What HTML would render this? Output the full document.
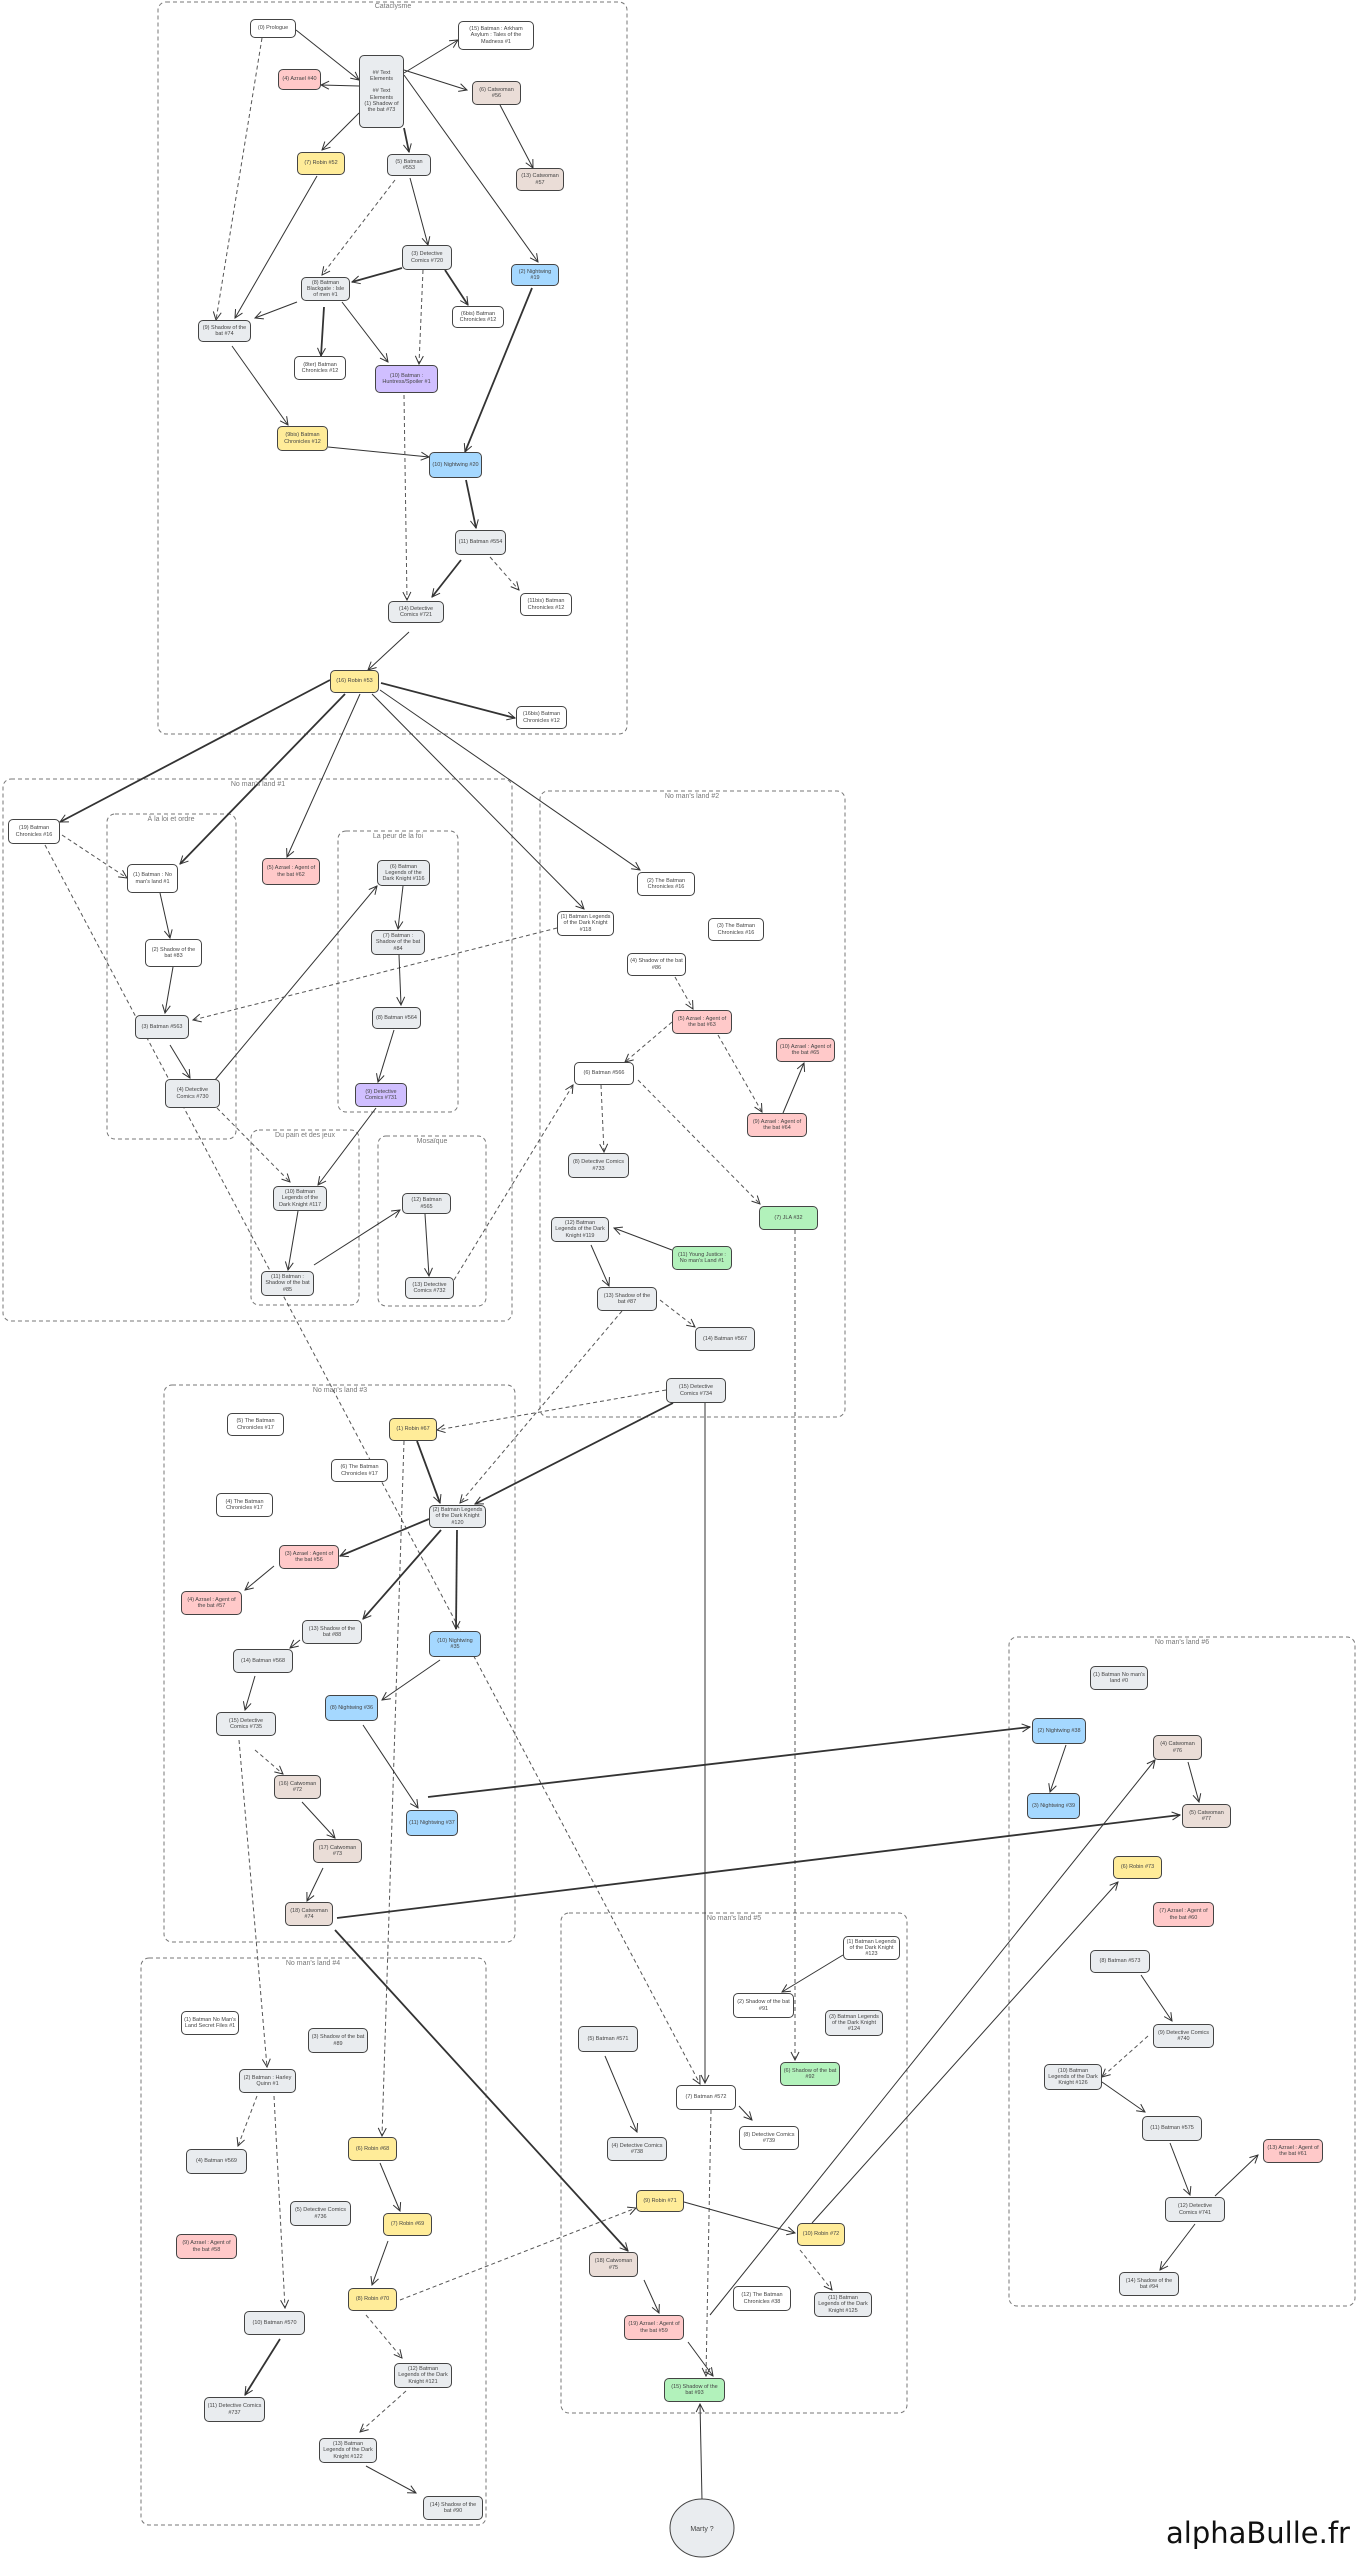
<!DOCTYPE html>
<html><head><meta charset="utf-8"><style>
body{margin:0;width:1358px;height:2560px;background:#fff;position:relative;overflow:hidden;font-family:"Liberation Sans",sans-serif}
svg{position:absolute;left:0;top:0}
.n{position:absolute;border:1px solid #444;border-radius:5px;display:flex;align-items:center;justify-content:center;text-align:center;font-size:5.5px;line-height:1.12;color:#444;box-sizing:border-box;padding:1px 2px;background:#fff;overflow:hidden}
.g{background:#e9ecef}.r{background:#ffc9c9}.y{background:#ffec99}.b{background:#a5d8ff}.p{background:#d0bfff}.br{background:#eaddd7}.gr{background:#b2f2bb}
.lbl{position:absolute;font-size:7px;color:#777;transform:translateX(-50%)}
line{stroke:#333;stroke-width:1;fill:none}
line.d{stroke-dasharray:4 3;stroke:#555}
line.t{stroke-width:1.8}
rect.c{fill:none;stroke:#777;stroke-dasharray:4 3;stroke-width:1}
</style></head><body>
<svg width="1358" height="2560">
<defs><marker id="a" markerWidth="10" markerHeight="10" refX="9" refY="5" orient="auto" markerUnits="userSpaceOnUse"><path d="M1,1 L9,5 L1,9" fill="none" stroke="#333" stroke-width="1"/></marker></defs>
<rect class="c" x="158" y="2" width="469" height="732" rx="8"/>
<rect class="c" x="3" y="779" width="509" height="542" rx="8"/>
<rect class="c" x="107" y="814" width="129" height="325" rx="8"/>
<rect class="c" x="338" y="831" width="120" height="281" rx="8"/>
<rect class="c" x="251" y="1130" width="108" height="175" rx="8"/>
<rect class="c" x="378" y="1136" width="108" height="170" rx="8"/>
<rect class="c" x="540" y="791" width="305" height="626" rx="8"/>
<rect class="c" x="164" y="1385" width="351" height="557" rx="8"/>
<rect class="c" x="1009" y="1637" width="346" height="669" rx="8"/>
<rect class="c" x="141" y="1958" width="345" height="567" rx="8"/>
<rect class="c" x="561" y="1913" width="346" height="500" rx="8"/>
<g marker-end="url(#a)">
<line x1="296" y1="30" x2="359" y2="80"/>
<line class="d" x1="262" y1="38" x2="216" y2="320"/>
<line x1="359" y1="86" x2="321" y2="85"/>
<line x1="404" y1="73" x2="458" y2="40"/>
<line x1="404" y1="70" x2="467" y2="90"/>
<line x1="404" y1="75" x2="538" y2="262"/>
<line x1="359" y1="113" x2="322" y2="150"/>
<line class="t" x1="404" y1="128" x2="409" y2="152"/>
<line x1="500" y1="105" x2="533" y2="168"/>
<line x1="317" y1="176" x2="235" y2="318"/>
<line class="d" x1="395" y1="180" x2="322" y2="275"/>
<line x1="410" y1="178" x2="428" y2="245"/>
<line class="t" x1="402" y1="268" x2="352" y2="282"/>
<line class="t" x1="445" y1="270" x2="468" y2="305"/>
<line class="d" x1="423" y1="270" x2="419" y2="364"/>
<line x1="297" y1="302" x2="255" y2="318"/>
<line class="t" x1="324" y1="307" x2="321" y2="356"/>
<line x1="342" y1="302" x2="388" y2="362"/>
<line class="t" x1="532" y1="288" x2="465" y2="452"/>
<line x1="232" y1="346" x2="288" y2="425"/>
<line x1="328" y1="447" x2="429" y2="457"/>
<line class="t" x1="466" y1="480" x2="476" y2="528"/>
<line class="t" x1="461" y1="560" x2="432" y2="597"/>
<line class="d" x1="490" y1="557" x2="519" y2="590"/>
<line class="d" x1="404" y1="395" x2="407" y2="600"/>
<line x1="409" y1="632" x2="368" y2="670"/>
<line class="t" x1="381" y1="683" x2="515" y2="718"/>
<line class="t" x1="330" y1="680" x2="60" y2="822"/>
<line class="t" x1="345" y1="694" x2="180" y2="864"/>
<line x1="360" y1="694" x2="287" y2="857"/>
<line x1="380" y1="690" x2="640" y2="870"/>
<line x1="372" y1="694" x2="584" y2="909"/>
<line class="d" x1="62" y1="835" x2="127" y2="878"/>
<line class="d" x1="45" y1="845" x2="700" y2="2084"/>
<line x1="160" y1="893" x2="170" y2="938"/>
<line x1="173" y1="967" x2="165" y2="1013"/>
<line x1="170" y1="1045" x2="190" y2="1078"/>
<line x1="215" y1="1080" x2="377" y2="886"/>
<line class="d" x1="217" y1="1108" x2="290" y2="1182"/>
<line class="d" x1="557" y1="928" x2="193" y2="1020"/>
<line x1="403" y1="886" x2="398" y2="929"/>
<line x1="399" y1="955" x2="401" y2="1005"/>
<line x1="394" y1="1030" x2="378" y2="1082"/>
<line x1="376" y1="1108" x2="318" y2="1185"/>
<line x1="298" y1="1211" x2="288" y2="1270"/>
<line x1="314" y1="1265" x2="400" y2="1210"/>
<line x1="425" y1="1214" x2="429" y2="1276"/>
<line class="d" x1="454" y1="1280" x2="573" y2="1085"/>
<line class="d" x1="675" y1="977" x2="693" y2="1009"/>
<line class="d" x1="672" y1="1022" x2="625" y2="1062"/>
<line class="d" x1="718" y1="1035" x2="762" y2="1112"/>
<line x1="783" y1="1113" x2="804" y2="1063"/>
<line class="d" x1="601" y1="1085" x2="604" y2="1152"/>
<line class="d" x1="638" y1="1080" x2="760" y2="1204"/>
<line x1="672" y1="1250" x2="614" y2="1228"/>
<line x1="591" y1="1245" x2="609" y2="1286"/>
<line class="d" x1="660" y1="1300" x2="695" y2="1327"/>
<line class="d" x1="622" y1="1311" x2="460" y2="1503"/>
<line class="d" x1="666" y1="1390" x2="437" y2="1430"/>
<line class="t" x1="673" y1="1403" x2="475" y2="1504"/>
<line x1="705" y1="1403" x2="705" y2="2083"/>
<line class="d" x1="795" y1="1230" x2="795" y2="2060"/>
<line class="d" x1="404" y1="1441" x2="382" y2="2136"/>
<line class="d" x1="239" y1="1740" x2="267" y2="2067"/>
<line class="t" x1="417" y1="1441" x2="440" y2="1503"/>
<line class="t" x1="429" y1="1519" x2="340" y2="1556"/>
<line class="t" x1="441" y1="1530" x2="363" y2="1619"/>
<line class="t" x1="457" y1="1530" x2="456" y2="1629"/>
<line x1="274" y1="1566" x2="245" y2="1590"/>
<line x1="300" y1="1640" x2="290" y2="1648"/>
<line x1="255" y1="1676" x2="245" y2="1710"/>
<line x1="440" y1="1660" x2="382" y2="1700"/>
<line x1="363" y1="1725" x2="418" y2="1808"/>
<line class="d" x1="255" y1="1750" x2="283" y2="1774"/>
<line x1="302" y1="1802" x2="335" y2="1838"/>
<line x1="323" y1="1868" x2="307" y2="1901"/>
<line class="t" x1="428" y1="1797" x2="1030" y2="1727"/>
<line class="t" x1="337" y1="1918" x2="1180" y2="1815"/>
<line class="t" x1="335" y1="1930" x2="628" y2="2251"/>
<line x1="1066" y1="1745" x2="1050" y2="1792"/>
<line x1="1188" y1="1762" x2="1199" y2="1802"/>
<line x1="1141" y1="1975" x2="1172" y2="2021"/>
<line class="d" x1="1148" y1="2036" x2="1102" y2="2077"/>
<line x1="1102" y1="2082" x2="1145" y2="2112"/>
<line x1="1170" y1="2143" x2="1190" y2="2195"/>
<line x1="1215" y1="2196" x2="1258" y2="2155"/>
<line x1="1195" y1="2224" x2="1160" y2="2270"/>
<line x1="843" y1="1955" x2="782" y2="1992"/>
<line x1="605" y1="2056" x2="637" y2="2132"/>
<line x1="739" y1="2106" x2="752" y2="2120"/>
<line class="d" x1="711" y1="2110" x2="706" y2="2376"/>
<line x1="684" y1="2202" x2="795" y2="2233"/>
<line class="d" x1="800" y1="2250" x2="832" y2="2290"/>
<line x1="812" y1="2223" x2="1118" y2="1882"/>
<line x1="710" y1="2315" x2="1155" y2="1760"/>
<line x1="644" y1="2280" x2="659" y2="2313"/>
<line x1="688" y1="2342" x2="713" y2="2376"/>
<line class="d" x1="400" y1="2300" x2="636" y2="2208"/>
<line x1="702" y1="2500" x2="700" y2="2404"/>
<line class="d" x1="257" y1="2096" x2="238" y2="2146"/>
<line class="d" x1="274" y1="2096" x2="285" y2="2308"/>
<line x1="380" y1="2163" x2="400" y2="2211"/>
<line x1="388" y1="2241" x2="372" y2="2285"/>
<line class="d" x1="366" y1="2315" x2="402" y2="2358"/>
<line class="d" x1="406" y1="2391" x2="360" y2="2432"/>
<line x1="366" y1="2466" x2="416" y2="2493"/>
<line class="t" x1="280" y1="2339" x2="245" y2="2395"/>
</g>
<ellipse cx="702" cy="2528" rx="32" ry="29" fill="#e9ecef" stroke="#444"/>
<text x="702" y="2531" font-size="7" fill="#444" text-anchor="middle" font-family="Liberation Sans">Marty ?</text>
</svg>
<div class="lbl" style="left:393px;top:3px">Cataclysme</div>
<div class="lbl" style="left:258px;top:781px">No man's land #1</div>
<div class="lbl" style="left:171px;top:816px">À la loi et ordre</div>
<div class="lbl" style="left:398px;top:833px">La peur de la foi</div>
<div class="lbl" style="left:305px;top:1132px">Du pain et des jeux</div>
<div class="lbl" style="left:432px;top:1138px">Mosaïque</div>
<div class="lbl" style="left:692px;top:793px">No man's land #2</div>
<div class="lbl" style="left:340px;top:1387px">No man's land #3</div>
<div class="lbl" style="left:1182px;top:1639px">No man's land #6</div>
<div class="lbl" style="left:313px;top:1960px">No man's land #4</div>
<div class="lbl" style="left:734px;top:1915px">No man's land #5</div>

<div class="n" style="left:250px;top:19px;width:46px;height:19px">(0) Prologue</div>
<div class="n g" style="left:359px;top:55px;width:45px;height:73px">## Text Elements<br><br>## Text Elements<br>(1) Shadow of the bat #73</div>
<div class="n r" style="left:278px;top:69px;width:43px;height:21px">(4) Azrael #40</div>
<div class="n" style="left:458px;top:21px;width:76px;height:29px">(15) Batman : Arkham Asylum : Tales of the Madness #1</div>
<div class="n br" style="left:472px;top:81px;width:49px;height:24px">(6) Catwoman #56</div>
<div class="n br" style="left:516px;top:168px;width:48px;height:23px">(13) Catwoman #57</div>
<div class="n y" style="left:297px;top:152px;width:48px;height:23px">(7) Robin #52</div>
<div class="n g" style="left:387px;top:154px;width:44px;height:22px">(5) Batman #553</div>
<div class="n g" style="left:402px;top:245px;width:50px;height:25px">(3) Detective Comics #720</div>
<div class="n b" style="left:511px;top:264px;width:48px;height:22px">(2) Nightwing #19</div>
<div class="n g" style="left:301px;top:277px;width:49px;height:24px">(8) Batman Blackgate : Isle of men #1</div>
<div class="n g" style="left:198px;top:320px;width:53px;height:22px">(9) Shadow of the bat #74</div>
<div class="n" style="left:452px;top:306px;width:52px;height:22px">(6bis) Batman Chronicles #12</div>
<div class="n" style="left:294px;top:356px;width:52px;height:24px">(8ter) Batman Chronicles #12</div>
<div class="n p" style="left:375px;top:365px;width:63px;height:28px">(10) Batman : Huntress/Spoiler #1</div>
<div class="n y" style="left:277px;top:426px;width:51px;height:25px">(9bis) Batman Chronicles #12</div>
<div class="n b" style="left:429px;top:452px;width:53px;height:26px">(10) Nightwing #20</div>
<div class="n g" style="left:455px;top:530px;width:51px;height:25px">(11) Batman #554</div>
<div class="n g" style="left:388px;top:601px;width:56px;height:22px">(14) Detective Comics #721</div>
<div class="n" style="left:520px;top:593px;width:52px;height:23px">(11bis) Batman Chronicles #12</div>
<div class="n y" style="left:330px;top:670px;width:49px;height:23px">(16) Robin #53</div>
<div class="n" style="left:516px;top:706px;width:51px;height:23px">(16bis) Batman Chronicles #12</div>

<div class="n" style="left:8px;top:819px;width:52px;height:25px">(19) Batman Chronicles #16</div>
<div class="n" style="left:127px;top:864px;width:51px;height:29px">(1) Batman : No man's land #1</div>
<div class="n" style="left:145px;top:939px;width:57px;height:28px">(2) Shadow of the bat #83</div>
<div class="n g" style="left:135px;top:1015px;width:54px;height:24px">(3) Batman #563</div>
<div class="n g" style="left:165px;top:1079px;width:55px;height:29px">(4) Detective Comics #730</div>
<div class="n r" style="left:262px;top:858px;width:58px;height:27px">(5) Azrael : Agent of the bat #62</div>
<div class="n g" style="left:377px;top:860px;width:53px;height:26px">(6) Batman Legends of the Dark Knight #116</div>
<div class="n g" style="left:371px;top:930px;width:54px;height:25px">(7) Batman : Shadow of the bat #84</div>
<div class="n g" style="left:372px;top:1007px;width:49px;height:22px">(8) Batman #564</div>
<div class="n p" style="left:355px;top:1083px;width:52px;height:24px">(9) Detective Comics #731</div>
<div class="n g" style="left:273px;top:1186px;width:54px;height:25px">(10) Batman Legends of the Dark Knight #117</div>
<div class="n g" style="left:261px;top:1271px;width:53px;height:25px">(11) Batman : Shadow of the bat #85</div>
<div class="n g" style="left:402px;top:1193px;width:49px;height:21px">(12) Batman #565</div>
<div class="n g" style="left:405px;top:1277px;width:49px;height:22px">(13) Detective Comics #732</div>

<div class="n" style="left:637px;top:872px;width:58px;height:24px">(2) The Batman Chronicles #16</div>
<div class="n" style="left:557px;top:911px;width:57px;height:25px">(1) Batman Legends of the Dark Knight #118</div>
<div class="n" style="left:708px;top:918px;width:56px;height:23px">(3) The Batman Chronicles #16</div>
<div class="n" style="left:627px;top:953px;width:59px;height:23px">(4) Shadow of the bat #86</div>
<div class="n r" style="left:672px;top:1010px;width:60px;height:24px">(5) Azrael : Agent of the bat #63</div>
<div class="n" style="left:574px;top:1062px;width:60px;height:23px">(6) Batman #566</div>
<div class="n r" style="left:776px;top:1038px;width:59px;height:24px">(10) Azrael : Agent of the bat #65</div>
<div class="n r" style="left:747px;top:1113px;width:60px;height:24px">(9) Azrael : Agent of the bat #64</div>
<div class="n g" style="left:568px;top:1153px;width:61px;height:25px">(8) Detective Comics #733</div>
<div class="n gr" style="left:759px;top:1206px;width:59px;height:24px">(7) JLA #32</div>
<div class="n g" style="left:551px;top:1217px;width:58px;height:25px">(12) Batman Legends of the Dark Knight #119</div>
<div class="n gr" style="left:672px;top:1246px;width:60px;height:24px">(11) Young Justice : No man's Land #1</div>
<div class="n g" style="left:597px;top:1287px;width:60px;height:24px">(13) Shadow of the bat #87</div>
<div class="n g" style="left:695px;top:1327px;width:60px;height:24px">(14) Batman #567</div>
<div class="n g" style="left:666px;top:1378px;width:60px;height:25px">(15) Detective Comics #734</div>

<div class="n" style="left:227px;top:1413px;width:57px;height:23px">(5) The Batman Chronicles #17</div>
<div class="n y" style="left:389px;top:1418px;width:48px;height:23px">(1) Robin #67</div>
<div class="n" style="left:331px;top:1459px;width:57px;height:23px">(6) The Batman Chronicles #17</div>
<div class="n" style="left:216px;top:1493px;width:57px;height:24px">(4) The Batman Chronicles #17</div>
<div class="n g" style="left:429px;top:1505px;width:57px;height:23px">(2) Batman Legends of the Dark Knight #120</div>
<div class="n r" style="left:279px;top:1545px;width:60px;height:24px">(3) Azrael : Agent of the bat #56</div>
<div class="n r" style="left:181px;top:1591px;width:61px;height:24px">(4) Azrael : Agent of the bat #57</div>
<div class="n g" style="left:302px;top:1620px;width:60px;height:24px">(13) Shadow of the bat #88</div>
<div class="n g" style="left:233px;top:1649px;width:60px;height:24px">(14) Batman #568</div>
<div class="n b" style="left:429px;top:1631px;width:52px;height:26px">(10) Nightwing #35</div>
<div class="n b" style="left:325px;top:1695px;width:53px;height:26px">(8) Nightwing #36</div>
<div class="n g" style="left:216px;top:1712px;width:60px;height:24px">(15) Detective Comics #735</div>
<div class="n br" style="left:274px;top:1775px;width:47px;height:24px">(16) Catwoman #72</div>
<div class="n b" style="left:406px;top:1810px;width:52px;height:26px">(11) Nightwing #37</div>
<div class="n br" style="left:313px;top:1839px;width:49px;height:24px">(17) Catwoman #73</div>
<div class="n br" style="left:285px;top:1902px;width:48px;height:24px">(18) Catwoman #74</div>

<div class="n g" style="left:1090px;top:1666px;width:58px;height:24px">(1) Batman No man's land #0</div>
<div class="n b" style="left:1032px;top:1718px;width:54px;height:26px">(2) Nightwing #38</div>
<div class="n b" style="left:1027px;top:1793px;width:53px;height:26px">(3) Nightwing #39</div>
<div class="n br" style="left:1153px;top:1735px;width:49px;height:25px">(4) Catwoman #76</div>
<div class="n br" style="left:1182px;top:1804px;width:49px;height:24px">(5) Catwoman #77</div>
<div class="n y" style="left:1113px;top:1856px;width:49px;height:23px">(6) Robin #73</div>
<div class="n r" style="left:1153px;top:1902px;width:61px;height:25px">(7) Azrael : Agent of the bat #60</div>
<div class="n g" style="left:1090px;top:1950px;width:60px;height:23px">(8) Batman #573</div>
<div class="n g" style="left:1153px;top:2024px;width:61px;height:24px">(9) Detective Comics #740</div>
<div class="n g" style="left:1044px;top:2064px;width:58px;height:26px">(10) Batman Legends of the Dark Knight #126</div>
<div class="n g" style="left:1142px;top:2116px;width:60px;height:25px">(11) Batman #575</div>
<div class="n r" style="left:1263px;top:2139px;width:60px;height:24px">(13) Azrael : Agent of the bat #61</div>
<div class="n g" style="left:1165px;top:2197px;width:60px;height:25px">(12) Detective Comics #741</div>
<div class="n g" style="left:1119px;top:2272px;width:60px;height:24px">(14) Shadow of the bat #94</div>

<div class="n" style="left:181px;top:2011px;width:58px;height:24px">(1) Batman No Man's Land Secret Files #1</div>
<div class="n g" style="left:308px;top:2028px;width:60px;height:25px">(3) Shadow of the bat #89</div>
<div class="n g" style="left:239px;top:2069px;width:57px;height:24px">(2) Batman : Harley Quinn #1</div>
<div class="n g" style="left:186px;top:2149px;width:61px;height:25px">(4) Batman #569</div>
<div class="n y" style="left:348px;top:2137px;width:49px;height:24px">(6) Robin #68</div>
<div class="n g" style="left:290px;top:2201px;width:61px;height:25px">(5) Detective Comics #736</div>
<div class="n y" style="left:383px;top:2213px;width:49px;height:23px">(7) Robin #69</div>
<div class="n r" style="left:176px;top:2234px;width:61px;height:25px">(9) Azrael : Agent of the bat #58</div>
<div class="n y" style="left:348px;top:2288px;width:49px;height:23px">(8) Robin #70</div>
<div class="n g" style="left:244px;top:2311px;width:61px;height:24px">(10) Batman #570</div>
<div class="n g" style="left:394px;top:2363px;width:58px;height:25px">(12) Batman Legends of the Dark Knight #121</div>
<div class="n g" style="left:204px;top:2397px;width:61px;height:25px">(11) Detective Comics #737</div>
<div class="n g" style="left:319px;top:2438px;width:58px;height:25px">(13) Batman Legends of the Dark Knight #122</div>
<div class="n g" style="left:423px;top:2496px;width:60px;height:24px">(14) Shadow of the bat #90</div>

<div class="n" style="left:843px;top:1936px;width:57px;height:24px">(1) Batman Legends of the Dark Knight #123</div>
<div class="n" style="left:733px;top:1993px;width:61px;height:25px">(2) Shadow of the bat #91</div>
<div class="n g" style="left:825px;top:2010px;width:58px;height:26px">(3) Batman Legends of the Dark Knight #124</div>
<div class="n g" style="left:578px;top:2026px;width:60px;height:26px">(5) Batman #571</div>
<div class="n gr" style="left:780px;top:2062px;width:60px;height:24px">(6) Shadow of the bat #92</div>
<div class="n" style="left:676px;top:2085px;width:60px;height:25px">(7) Batman #572</div>
<div class="n g" style="left:607px;top:2137px;width:60px;height:24px">(4) Detective Comics #738</div>
<div class="n" style="left:739px;top:2126px;width:60px;height:24px">(8) Detective Comics #739</div>
<div class="n y" style="left:636px;top:2190px;width:48px;height:22px">(9) Robin #71</div>
<div class="n y" style="left:797px;top:2223px;width:48px;height:23px">(10) Robin #72</div>
<div class="n br" style="left:589px;top:2252px;width:49px;height:25px">(18) Catwoman #75</div>
<div class="n" style="left:733px;top:2286px;width:58px;height:25px">(12) The Batman Chronicles #38</div>
<div class="n g" style="left:814px;top:2292px;width:58px;height:25px">(11) Batman Legends of the Dark Knight #125</div>
<div class="n r" style="left:624px;top:2315px;width:60px;height:25px">(19) Azrael : Agent of the bat #59</div>
<div class="n gr" style="left:664px;top:2378px;width:61px;height:24px">(15) Shadow of the bat #93</div>

<div style="position:absolute;left:1166px;top:2516px;font-size:29px;color:#111;font-family:'DejaVu Sans','Liberation Sans',sans-serif;white-space:nowrap">alphaBulle.fr</div>
</body></html>
